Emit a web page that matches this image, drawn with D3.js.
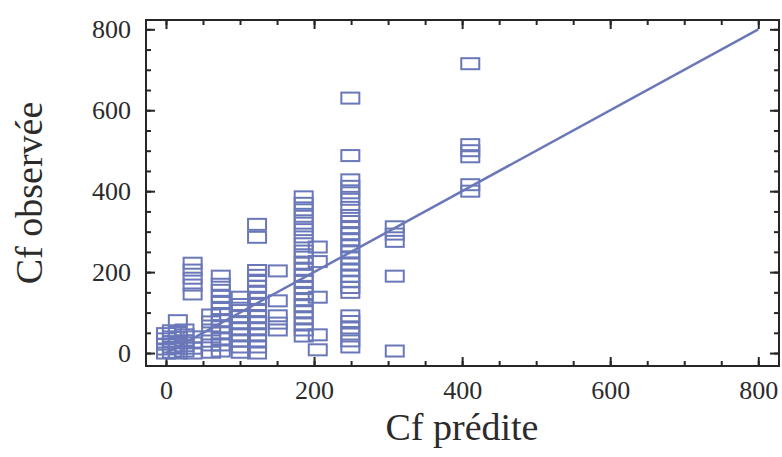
<!DOCTYPE html>
<html>
<head>
<meta charset="utf-8">
<script src="https://cdn.jsdelivr.net/npm/d3@7"></script>
<style>
  body { margin: 0; background: #fff; }
  #chart { width: 782px; height: 457px; }
</style>
</head>
<body>
<div id="chart"></div>
<script>
// Cf prédite (x) of each column of points
const predX = [0, 8, 16, 25, 36, 61, 74, 101, 123, 151, 186, 205, 249, 309, 411];
// Cf observée values for each column
const obsY = [
  [0, 10, 22, 35, 48],
  [2, 15, 28, 40, 55],
  [0, 12, 25, 38, 50, 80],
  [5, 18, 30, 45, 57],
  [0, 12, 25, 40, 146, 168, 185, 205, 222],
  [2, 20, 40, 57, 77, 94],
  [5, 20, 35, 50, 65, 80, 95, 110, 125, 140, 155, 170, 190],
  [2, 15, 30, 45, 60, 75, 90, 105, 120, 138],
  [0, 15, 30, 45, 60, 75, 90, 105, 120, 135, 150, 165, 180, 192, 204, 286, 318],
  [57, 74, 92, 129, 203],
  [42, 57, 72, 87, 102, 117, 132, 147, 162, 177, 192, 207, 222, 237, 252, 270, 287, 305, 321, 338, 354, 370, 386],
  [8, 45, 138, 226, 262],
  [15, 30, 47, 62, 78, 92, 150, 162, 176, 190, 205, 220, 235, 250, 265, 280, 295, 310, 325, 340, 360, 380, 396, 412, 428, 488, 630],
  [5, 190, 276, 294, 312],
  [400, 416, 485, 500, 515, 715]
];
const majorTicks = [0, 200, 400, 600, 800];
const minorTicks = d3.range(0, 801, 50);
const fitLine = [[0, 0], [800, 800]];

let points = [];
predX.forEach((x, i) => obsY[i].forEach(y => points.push({x: x, y: y})));

let w = 782, h = 457;
let frame = {left: 146, right: 779, top: 20, bottom: 366};
let blue = '#6a78b9', ink = '#262626';
let serif = '"Liberation Serif", "Times New Roman", serif';

let svg = d3.select('#chart').append('svg').attr('width', w).attr('height', h)
  .style('font-family', serif);

let xScale = d3.scaleLinear().domain([-27, 828]).range([frame.left, frame.right]);
let yScale = d3.scaleLinear().domain([-32, 823]).range([frame.bottom, frame.top]);

// frame
svg.append('rect').attr('x', frame.left).attr('y', frame.top)
  .attr('width', frame.right - frame.left).attr('height', frame.bottom - frame.top)
  .attr('fill', 'none').attr('stroke', ink).attr('stroke-width', 2);

// axes, ticks pointing inward, mirrored on top/right
function addAxis(axis, tr, vals, size, labels) {
  let g = svg.append('g').attr('transform', tr)
    .call(axis.tickValues(vals).tickSize(-size).tickPadding(labels ? 15 : 0)
      .tickFormat(labels ? d3.format('d') : ''));
  g.attr('font-family', serif).attr('font-size', 26);
  g.select('.domain').remove();
  g.selectAll('.tick line').attr('stroke', ink).attr('stroke-width', 2);
  g.selectAll('text').attr('fill', '#2b2b2b');
  return g;
}
addAxis(d3.axisBottom(xScale), `translate(0,${frame.bottom})`, minorTicks, 5, false);
addAxis(d3.axisBottom(xScale), `translate(0,${frame.bottom})`, majorTicks, 9, true);
addAxis(d3.axisTop(xScale), `translate(0,${frame.top})`, minorTicks, 5, false);
addAxis(d3.axisTop(xScale), `translate(0,${frame.top})`, majorTicks, 9, false);
addAxis(d3.axisLeft(yScale), `translate(${frame.left},0)`, minorTicks, 5, false);
addAxis(d3.axisLeft(yScale), `translate(${frame.left},0)`, majorTicks, 9, true);
addAxis(d3.axisRight(yScale), `translate(${frame.right},0)`, minorTicks, 5, false);
addAxis(d3.axisRight(yScale), `translate(${frame.right},0)`, majorTicks, 9, false);

// y = x line
let lineg = d3.line().x(d => xScale(d[0])).y(d => yScale(d[1]));
svg.append('path').attr('d', lineg(fitLine))
  .attr('fill', 'none').attr('stroke', blue).attr('stroke-width', 2.5);

// square markers
svg.append('g').selectAll('rect').data(points).enter().append('rect')
  .attr('x', d => xScale(d.x) - 9).attr('y', d => yScale(d.y) - 5.5)
  .attr('width', 18).attr('height', 11)
  .attr('fill', 'none').attr('stroke', blue).attr('stroke-width', 2);

// axis titles
svg.append('text').attr('x', 462).attr('y', 440).attr('text-anchor', 'middle')
  .attr('fill', '#2b2b2b').style('font-size', '38px').text('Cf prédite');
svg.append('text').attr('transform', 'translate(42,193) rotate(-90)').attr('text-anchor', 'middle')
  .attr('fill', '#2b2b2b').style('font-size', '38px').text('Cf observée');
</script>
</body>
</html>
